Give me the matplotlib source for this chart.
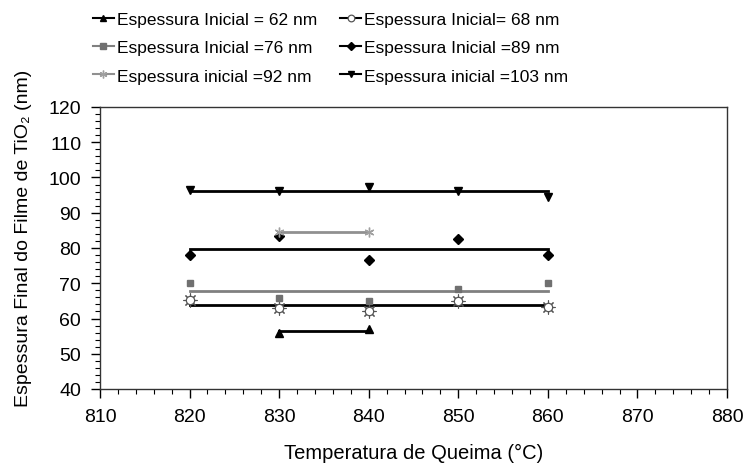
import numpy as np
import matplotlib
matplotlib.use("Agg")
import matplotlib.pyplot as plt
from matplotlib.ticker import MultipleLocator

plt.rcParams['font.family'] = ['Liberation Sans', 'DejaVu Sans']

temps_a = [830, 840]
e62 = [55.9, 56.9]
temps_b = [820, 830, 840, 850, 860]
e68 = [65.3, 63.0, 62.2, 65.0, 63.4]
e76 = [70.0, 65.7, 64.9, 68.3, 70.0]
e89 = [77.9, 83.3, 76.5, 82.6, 77.9]
e92 = [84.4, 84.6]
e103 = [96.5, 96.1, 97.2, 96.2, 94.4]

labels = ["Espessura Inicial = 62 nm", "Espessura Inicial= 68 nm",
          "Espessura Inicial =76 nm", "Espessura Inicial =89 nm",
          "Espessura inicial =92 nm", "Espessura inicial =103 nm"]

fig = plt.figure(figsize=(7.45, 4.64), dpi=100)
ax = fig.add_axes([100/745, 1-390/464, 627/745, 282/464])

series = [
    (temps_a, e62, labels[0], 'black', dict(marker='^', ms=6, mfc='black', mec='black')),
    (temps_b, e68, labels[1], 'black', dict(marker='o', ms=6, mfc='white', mec='#555555', mew=0.9)),
    (temps_b, e76, labels[2], '#808080', dict(marker='s', ms=5, mfc='#707070', mec='#707070')),
    (temps_b, e89, labels[3], 'black', dict(marker='D', ms=5, mfc='black', mec='black')),
    (temps_a, e92, labels[4], '#909090', dict(marker=(6, 2, 0), ms=7, mfc='#a0a0a0', mec='#a0a0a0', mew=1.0)),
    (temps_b, e103, labels[5], 'black', dict(marker='v', ms=6, mfc='black', mec='black')),
]

handles = {}
for x, y, lab, col, mk in series:
    if mk['marker'] == 'o':
        ax.plot(x, y, linestyle='none', marker=(8, 2, 0), ms=10, mec='#555555', mew=0.8, zorder=3)
    ax.plot(x, y, linestyle='none', zorder=4, **mk)
    m = np.mean(y)
    ax.plot([x[0], x[-1]], [m, m], color=col, lw=2, zorder=2)
    h, = ax.plot([], [], color=col, lw=1.5, label=lab,
                 **{k: v for k, v in mk.items() if k != 'ms'}, ms=mk['ms']*0.8)
    handles[lab] = h

# legend arranged row-wise: column 1 = 62, 76, 92; column 2 = 68, 89, 103
order = [labels[0], labels[2], labels[4], labels[1], labels[3], labels[5]]

ax.set_xlim(810, 880)
ax.set_ylim(40, 120)
ax.xaxis.set_major_locator(MultipleLocator(10))
ax.xaxis.set_minor_locator(MultipleLocator(2))
ax.yaxis.set_major_locator(MultipleLocator(10))
ax.yaxis.set_minor_locator(MultipleLocator(2))
ax.tick_params(which='major', direction='out', length=6.5, width=1, labelsize=14, pad=7)
ax.tick_params(which='minor', direction='out', length=3.5, width=0.8)
for s in ax.spines.values():
    s.set_color('#333333')
    s.set_linewidth(1.0)

ax.set_xlabel("Temperatura de Queima (°C)", fontsize=14.5, labelpad=13)
ax.set_ylabel("Espessura Final do Filme de TiO₂ (nm)", fontsize=14)
ax.yaxis.set_label_coords(-68/627, (390 - 238) / 282)

fig.legend(handles=[handles[l] for l in order], loc='upper left', bbox_to_anchor=(80/745, 1.0), ncol=2,
           frameon=False, fontsize=12.5, handlelength=1.2, handletextpad=0.2,
           columnspacing=1.3, labelspacing=0.75, borderaxespad=0.35)

fig.savefig("out.png", dpi=100)
